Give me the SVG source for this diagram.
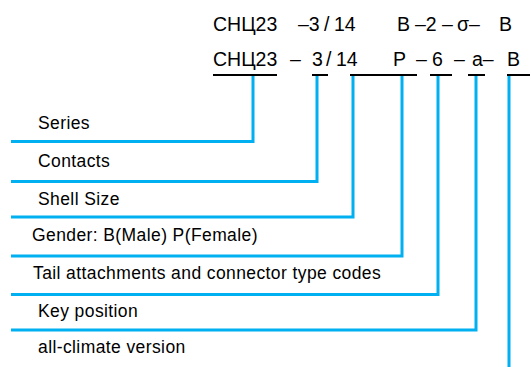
<svg xmlns="http://www.w3.org/2000/svg" width="531" height="367" viewBox="0 0 531 367">
<style>
.code{font-family:"Liberation Sans",Arial,sans-serif;font-size:19.5px;fill:#000}
.lbl{font-family:"Liberation Sans",Arial,sans-serif;font-size:17.5px;letter-spacing:0.4px;fill:#000}
.ul{stroke:#000;stroke-width:2;fill:none}
.con{stroke:#00B0F0;stroke-width:3;fill:none}
</style>
<rect width="531" height="367" fill="#fff"/>
<g id="code-row1">
<text class="code" x="213" y="31">СНЦ23</text>
<text class="code" y="31"><tspan x="298">–3</tspan><tspan x="324">/</tspan><tspan x="334">14</tspan></text>
<text class="code" x="397" y="31">В</text>
<text class="code" x="415" y="31">–2</text>
<text class="code" x="442" y="31">–</text>
<text class="code" x="457" y="31">σ–</text>
<text class="code" x="499" y="31">В</text>
</g>
<g id="code-row2">
<text class="code" x="213" y="66">СНЦ23</text>
<text class="code" y="66"><tspan x="290">–</tspan><tspan x="312">3</tspan><tspan x="326">/</tspan><tspan x="336">14</tspan></text>
<text class="code" x="393" y="66">Р</text>
<text class="code" x="416" y="66">–</text>
<text class="code" x="432" y="66">6</text>
<text class="code" x="454" y="66">–</text>
<text class="code" x="472" y="66">a–</text>
<text class="code" x="507" y="66">В</text>
<path class="ul" d="M213 75H277M312 75H328M350 75H417M430 75H452M468 75H485M507 75H530"/>
</g>
<g id="series"><text class="lbl" x="38" y="129">Series</text></g>
<g id="contacts"><text class="lbl" x="38" y="167">Contacts</text></g>
<g id="shell-size"><text class="lbl" x="38" y="205">Shell Size</text></g>
<g id="gender"><text class="lbl" x="32" y="241">Gender: B(Male)  P(Female)</text></g>
<g id="tail"><text class="lbl" x="33" y="279">Tail attachments and connector type codes</text></g>
<g id="key"><text class="lbl" x="38" y="317">Key position</text></g>
<g id="climate"><text class="lbl" x="38" y="353">all-climate version</text></g>
<g id="connectors">
<path class="con" d="M253 76V141.5H11"/>
<path class="con" d="M317 76V181.5H11"/>
<path class="con" d="M353 76V217H11"/>
<path class="con" d="M402 76V256H11"/>
<path class="con" d="M438 76V294.5H11"/>
<path class="con" d="M476 76V330H11"/>
<path class="con" d="M509 76V367"/>
</g>
</svg>
